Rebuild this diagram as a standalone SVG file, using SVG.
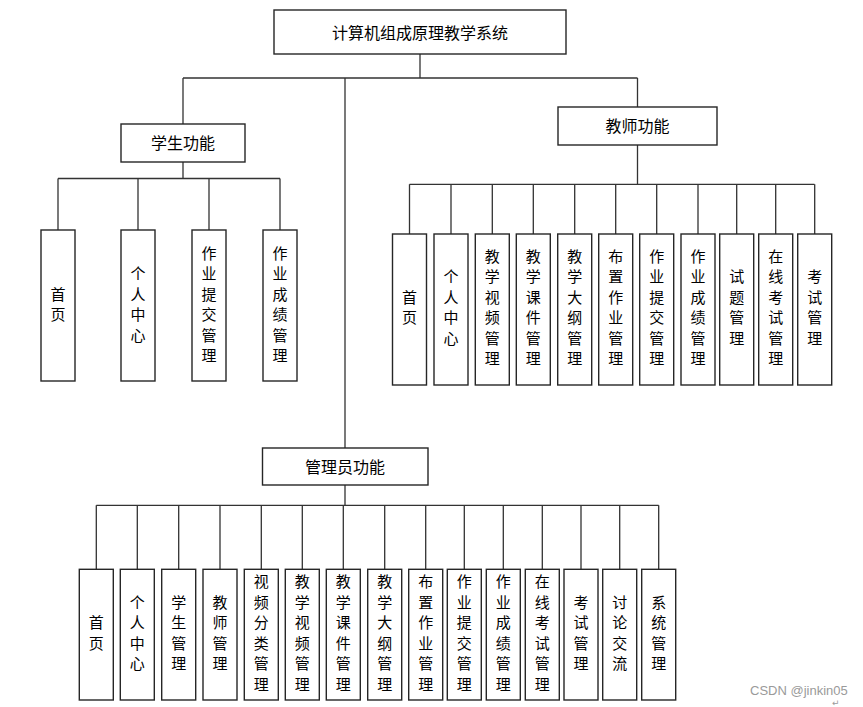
<svg xmlns="http://www.w3.org/2000/svg" width="863" height="707" viewBox="0 0 863 707">
<style>
.box{fill:#fff;stroke:#262626;stroke-width:1.4}
.ln{fill:none;stroke:#333;stroke-width:1.3}
.t{font-family:"Noto Sans CJK SC","Noto Sans CJK JP",sans-serif;font-size:16px;fill:#000;text-anchor:middle}
.v{font-family:"Noto Sans CJK SC","Noto Sans CJK JP",sans-serif;font-size:15px;fill:#000;text-anchor:middle}
.wm{font-family:"Liberation Sans",Arial,sans-serif;font-size:13px;fill:#9a9a9a}
</style>
<rect width="863" height="707" fill="#fff"/>
<g id="connectors">
<path class="ln" d="M420,54V78M183,78H637.5M183,78V124M637.5,78V107M345,78V448"/>
<path class="ln" d="M183,162V178.5M58,178.5H280M58,178.5V230M138,178.5V230M209,178.5V230M280,178.5V230"/>
<path class="ln" d="M637.5,145V184.3M409.5,184.3H814.5M409.5,184.3V234M451,184.3V234M492.3,184.3V234M533.3,184.3V234M574.7,184.3V234M615.7,184.3V234M656.7,184.3V234M698,184.3V234M736.7,184.3V234M775.7,184.3V234M814.7,184.3V234"/>
<path class="ln" d="M345,485V505.3M96.3,505.3H658.7M96.3,505.3V569M137.3,505.3V569M178.7,505.3V569M220,505.3V569M261.3,505.3V569M302.3,505.3V569M343.3,505.3V569M384.7,505.3V569M425.7,505.3V569M464.3,505.3V569M503.3,505.3V569M542.3,505.3V569M581,505.3V569M619.7,505.3V569M658.7,505.3V569"/>
</g>
<g id="root"><rect class="box" x="274" y="10" width="292" height="44"/><text class="t" x="420" y="39">计算机组成原理教学系统</text></g>
<g id="student"><rect class="box" x="121" y="124" width="124" height="38"/><text class="t" x="183" y="149">学生功能</text></g>
<g id="teacher"><rect class="box" x="558" y="107" width="159" height="38"/><text class="t" x="637.5" y="132">教师功能</text></g>
<g id="admin"><rect class="box" x="262.5" y="448" width="165.5" height="37"/><text class="t" x="345" y="472.5">管理员功能</text></g>

<g id="s1"><rect class="box" x="41" y="230" width="34" height="151"/><text class="v"><tspan x="58" y="299.8">首</tspan><tspan x="58" y="320.3">页</tspan></text></g>
<g id="s2"><rect class="box" x="121" y="230" width="34" height="151"/><text class="v"><tspan x="138" y="279.3">个</tspan><tspan x="138" y="299.8">人</tspan><tspan x="138" y="320.3">中</tspan><tspan x="138" y="340.8">心</tspan></text></g>
<g id="s3"><rect class="box" x="192" y="230" width="34" height="151"/><text class="v"><tspan x="209" y="258.8">作</tspan><tspan x="209" y="279.3">业</tspan><tspan x="209" y="299.8">提</tspan><tspan x="209" y="320.3">交</tspan><tspan x="209" y="340.8">管</tspan><tspan x="209" y="361.3">理</tspan></text></g>
<g id="s4"><rect class="box" x="263" y="230" width="34" height="151"/><text class="v"><tspan x="280" y="258.8">作</tspan><tspan x="280" y="279.3">业</tspan><tspan x="280" y="299.8">成</tspan><tspan x="280" y="320.3">绩</tspan><tspan x="280" y="340.8">管</tspan><tspan x="280" y="361.3">理</tspan></text></g>

<g id="t1"><rect class="box" x="392.5" y="234" width="34" height="151"/><text class="v"><tspan x="409.5" y="302.8">首</tspan><tspan x="409.5" y="323.3">页</tspan></text></g>
<g id="t2"><rect class="box" x="434" y="234" width="34" height="151"/><text class="v"><tspan x="451" y="282.3">个</tspan><tspan x="451" y="302.8">人</tspan><tspan x="451" y="323.3">中</tspan><tspan x="451" y="343.8">心</tspan></text></g>
<g id="t3"><rect class="box" x="475.3" y="234" width="34" height="151"/><text class="v"><tspan x="492.3" y="261.8">教</tspan><tspan x="492.3" y="282.3">学</tspan><tspan x="492.3" y="302.8">视</tspan><tspan x="492.3" y="323.3">频</tspan><tspan x="492.3" y="343.8">管</tspan><tspan x="492.3" y="364.3">理</tspan></text></g>
<g id="t4"><rect class="box" x="516.3" y="234" width="34" height="151"/><text class="v"><tspan x="533.3" y="261.8">教</tspan><tspan x="533.3" y="282.3">学</tspan><tspan x="533.3" y="302.8">课</tspan><tspan x="533.3" y="323.3">件</tspan><tspan x="533.3" y="343.8">管</tspan><tspan x="533.3" y="364.3">理</tspan></text></g>
<g id="t5"><rect class="box" x="557.7" y="234" width="34" height="151"/><text class="v"><tspan x="574.7" y="261.8">教</tspan><tspan x="574.7" y="282.3">学</tspan><tspan x="574.7" y="302.8">大</tspan><tspan x="574.7" y="323.3">纲</tspan><tspan x="574.7" y="343.8">管</tspan><tspan x="574.7" y="364.3">理</tspan></text></g>
<g id="t6"><rect class="box" x="598.7" y="234" width="34" height="151"/><text class="v"><tspan x="615.7" y="261.8">布</tspan><tspan x="615.7" y="282.3">置</tspan><tspan x="615.7" y="302.8">作</tspan><tspan x="615.7" y="323.3">业</tspan><tspan x="615.7" y="343.8">管</tspan><tspan x="615.7" y="364.3">理</tspan></text></g>
<g id="t7"><rect class="box" x="639.7" y="234" width="34" height="151"/><text class="v"><tspan x="656.7" y="261.8">作</tspan><tspan x="656.7" y="282.3">业</tspan><tspan x="656.7" y="302.8">提</tspan><tspan x="656.7" y="323.3">交</tspan><tspan x="656.7" y="343.8">管</tspan><tspan x="656.7" y="364.3">理</tspan></text></g>
<g id="t8"><rect class="box" x="681" y="234" width="34" height="151"/><text class="v"><tspan x="698" y="261.8">作</tspan><tspan x="698" y="282.3">业</tspan><tspan x="698" y="302.8">成</tspan><tspan x="698" y="323.3">绩</tspan><tspan x="698" y="343.8">管</tspan><tspan x="698" y="364.3">理</tspan></text></g>
<g id="t9"><rect class="box" x="719.7" y="234" width="34" height="151"/><text class="v"><tspan x="736.7" y="282.3">试</tspan><tspan x="736.7" y="302.8">题</tspan><tspan x="736.7" y="323.3">管</tspan><tspan x="736.7" y="343.8">理</tspan></text></g>
<g id="t10"><rect class="box" x="758.7" y="234" width="34" height="151"/><text class="v"><tspan x="775.7" y="261.8">在</tspan><tspan x="775.7" y="282.3">线</tspan><tspan x="775.7" y="302.8">考</tspan><tspan x="775.7" y="323.3">试</tspan><tspan x="775.7" y="343.8">管</tspan><tspan x="775.7" y="364.3">理</tspan></text></g>
<g id="t11"><rect class="box" x="797.7" y="234" width="34" height="151"/><text class="v"><tspan x="814.7" y="282.3">考</tspan><tspan x="814.7" y="302.8">试</tspan><tspan x="814.7" y="323.3">管</tspan><tspan x="814.7" y="343.8">理</tspan></text></g>

<g id="a1"><rect class="box" x="79.3" y="569.3" width="34" height="130.7"/><text class="v"><tspan x="96.3" y="628.3">首</tspan><tspan x="96.3" y="648.8">页</tspan></text></g>
<g id="a2"><rect class="box" x="120.3" y="569.3" width="34" height="130.7"/><text class="v"><tspan x="137.3" y="607.8">个</tspan><tspan x="137.3" y="628.3">人</tspan><tspan x="137.3" y="648.8">中</tspan><tspan x="137.3" y="669.3">心</tspan></text></g>
<g id="a3"><rect class="box" x="161.7" y="569.3" width="34" height="130.7"/><text class="v"><tspan x="178.7" y="607.8">学</tspan><tspan x="178.7" y="628.3">生</tspan><tspan x="178.7" y="648.8">管</tspan><tspan x="178.7" y="669.3">理</tspan></text></g>
<g id="a4"><rect class="box" x="203" y="569.3" width="34" height="130.7"/><text class="v"><tspan x="220" y="607.8">教</tspan><tspan x="220" y="628.3">师</tspan><tspan x="220" y="648.8">管</tspan><tspan x="220" y="669.3">理</tspan></text></g>
<g id="a5"><rect class="box" x="244.3" y="569.3" width="34" height="130.7"/><text class="v"><tspan x="261.3" y="587.3">视</tspan><tspan x="261.3" y="607.8">频</tspan><tspan x="261.3" y="628.3">分</tspan><tspan x="261.3" y="648.8">类</tspan><tspan x="261.3" y="669.3">管</tspan><tspan x="261.3" y="689.8">理</tspan></text></g>
<g id="a6"><rect class="box" x="285.3" y="569.3" width="34" height="130.7"/><text class="v"><tspan x="302.3" y="587.3">教</tspan><tspan x="302.3" y="607.8">学</tspan><tspan x="302.3" y="628.3">视</tspan><tspan x="302.3" y="648.8">频</tspan><tspan x="302.3" y="669.3">管</tspan><tspan x="302.3" y="689.8">理</tspan></text></g>
<g id="a7"><rect class="box" x="326.3" y="569.3" width="34" height="130.7"/><text class="v"><tspan x="343.3" y="587.3">教</tspan><tspan x="343.3" y="607.8">学</tspan><tspan x="343.3" y="628.3">课</tspan><tspan x="343.3" y="648.8">件</tspan><tspan x="343.3" y="669.3">管</tspan><tspan x="343.3" y="689.8">理</tspan></text></g>
<g id="a8"><rect class="box" x="367.7" y="569.3" width="34" height="130.7"/><text class="v"><tspan x="384.7" y="587.3">教</tspan><tspan x="384.7" y="607.8">学</tspan><tspan x="384.7" y="628.3">大</tspan><tspan x="384.7" y="648.8">纲</tspan><tspan x="384.7" y="669.3">管</tspan><tspan x="384.7" y="689.8">理</tspan></text></g>
<g id="a9"><rect class="box" x="408.7" y="569.3" width="34" height="130.7"/><text class="v"><tspan x="425.7" y="587.3">布</tspan><tspan x="425.7" y="607.8">置</tspan><tspan x="425.7" y="628.3">作</tspan><tspan x="425.7" y="648.8">业</tspan><tspan x="425.7" y="669.3">管</tspan><tspan x="425.7" y="689.8">理</tspan></text></g>
<g id="a10"><rect class="box" x="447.3" y="569.3" width="34" height="130.7"/><text class="v"><tspan x="464.3" y="587.3">作</tspan><tspan x="464.3" y="607.8">业</tspan><tspan x="464.3" y="628.3">提</tspan><tspan x="464.3" y="648.8">交</tspan><tspan x="464.3" y="669.3">管</tspan><tspan x="464.3" y="689.8">理</tspan></text></g>
<g id="a11"><rect class="box" x="486.3" y="569.3" width="34" height="130.7"/><text class="v"><tspan x="503.3" y="587.3">作</tspan><tspan x="503.3" y="607.8">业</tspan><tspan x="503.3" y="628.3">成</tspan><tspan x="503.3" y="648.8">绩</tspan><tspan x="503.3" y="669.3">管</tspan><tspan x="503.3" y="689.8">理</tspan></text></g>
<g id="a12"><rect class="box" x="525.3" y="569.3" width="34" height="130.7"/><text class="v"><tspan x="542.3" y="587.3">在</tspan><tspan x="542.3" y="607.8">线</tspan><tspan x="542.3" y="628.3">考</tspan><tspan x="542.3" y="648.8">试</tspan><tspan x="542.3" y="669.3">管</tspan><tspan x="542.3" y="689.8">理</tspan></text></g>
<g id="a13"><rect class="box" x="564" y="569.3" width="34" height="130.7"/><text class="v"><tspan x="581" y="607.8">考</tspan><tspan x="581" y="628.3">试</tspan><tspan x="581" y="648.8">管</tspan><tspan x="581" y="669.3">理</tspan></text></g>
<g id="a14"><rect class="box" x="602.7" y="569.3" width="34" height="130.7"/><text class="v"><tspan x="619.7" y="607.8">讨</tspan><tspan x="619.7" y="628.3">论</tspan><tspan x="619.7" y="648.8">交</tspan><tspan x="619.7" y="669.3">流</tspan></text></g>
<g id="a15"><rect class="box" x="641.7" y="569.3" width="34" height="130.7"/><text class="v"><tspan x="658.7" y="607.8">系</tspan><tspan x="658.7" y="628.3">统</tspan><tspan x="658.7" y="648.8">管</tspan><tspan x="658.7" y="669.3">理</tspan></text></g>

<text class="wm" x="750" y="694.5">CSDN @jinkin05</text>
<text class="wm" x="832" y="706" style="font-size:9px;font-family:'DejaVu Sans',sans-serif">↵</text>
</svg>
